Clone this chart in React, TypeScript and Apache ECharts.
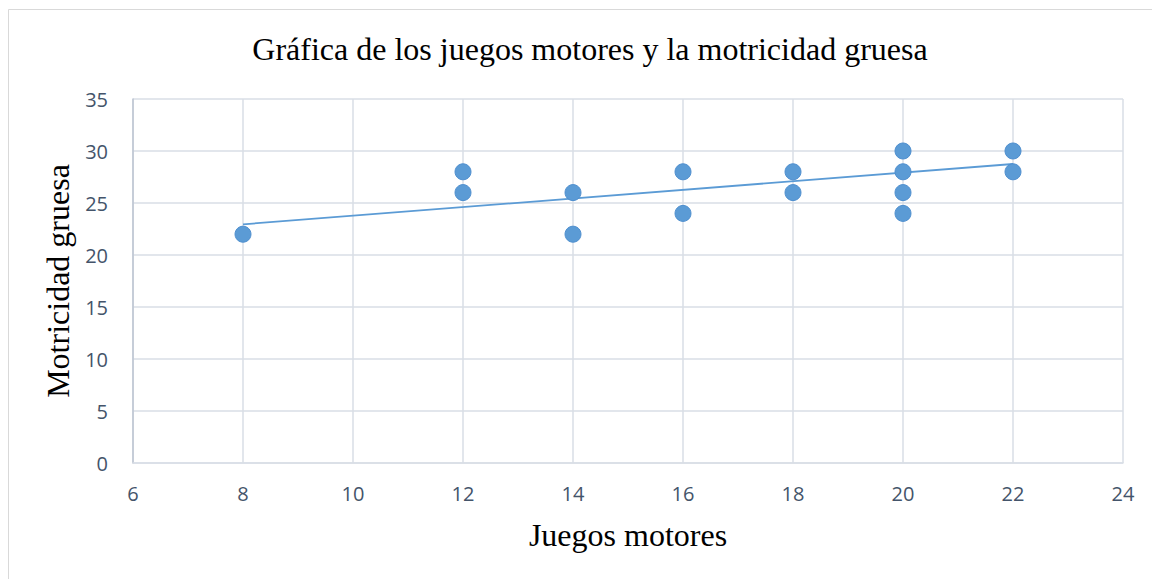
import React, { useEffect, useRef } from "react";
import * as echarts from "echarts";

const titleText = "Gráfica de los juegos motores y la motricidad gruesa";
const xAxisName = "Juegos motores";
const yAxisName = "Motricidad gruesa";

const juegosMotores = [8, 12, 12, 14, 14, 16, 16, 18, 18, 20, 20, 20, 20, 22, 22];
const motricidadGruesa = [22, 28, 26, 26, 22, 28, 24, 28, 26, 30, 28, 26, 24, 30, 28];

const trendX = [8, 22];
const trendY = [22.95, 28.75];

const xMin = 6, xMax = 24, xStep = 2;
const yMin = 0, yMax = 35, yStep = 5;

export default function App() {
  const ref = useRef<HTMLDivElement>(null);
  useEffect(() => {
    if (!ref.current) return;
    const chart = echarts.init(ref.current, null, { renderer: "svg" });
    const labelColor = "#44546A";
    const gridColor = "#D9DEE6";
    chart.setOption({
      animation: false,
      backgroundColor: "#ffffff",
      title: {
        text: titleText,
        left: 585,
        top: 28,
        textAlign: "center",
        textStyle: {
          fontFamily: "Liberation Serif",
          fontWeight: "normal",
          fontSize: 32,
          color: "#000000",
        },
      },
      graphic: [
        {
          type: "rect",
          shape: { x: 8.5, y: 9.5, width: 1160, height: 600 },
          style: { fill: "none", stroke: "#D9D9D9", lineWidth: 1 },
          silent: true,
        },
      ],
      grid: { left: 133, right: 29, top: 99, bottom: 116 },
      xAxis: {
        type: "value",
        min: xMin,
        max: xMax,
        interval: xStep,
        name: xAxisName,
        nameLocation: "middle",
        nameGap: 56,
        nameTextStyle: { fontFamily: "Liberation Serif", fontSize: 32, color: "#000000" },
        axisLine: { show: true, lineStyle: { color: gridColor, width: 1.5 } },
        axisTick: { show: false },
        axisLabel: { color: labelColor, fontFamily: "Open Sans", fontSize: 20, margin: 20 },
        splitLine: { show: true, lineStyle: { color: gridColor, width: 1.5 } },
      },
      yAxis: {
        type: "value",
        min: yMin,
        max: yMax,
        interval: yStep,
        name: yAxisName,
        nameLocation: "middle",
        nameRotate: 90,
        nameGap: 55,
        nameTextStyle: { fontFamily: "Liberation Serif", fontSize: 32, color: "#000000" },
        axisLine: { show: true, lineStyle: { color: "#BCC4D2", width: 1.5 } },
        axisTick: { show: false },
        axisLabel: { color: labelColor, fontFamily: "Open Sans", fontSize: 20, margin: 25 },
        splitLine: { show: true, lineStyle: { color: gridColor, width: 1.5 } },
      },
      series: [
        {
          type: "line",
          data: trendX.map((x, i) => [x, trendY[i]]),
          showSymbol: false,
          symbol: "none",
          lineStyle: { color: "#5B9BD5", width: 1.8 },
          z: 3,
        },
        {
          type: "scatter",
          data: juegosMotores.map((x, i) => [x, motricidadGruesa[i]]),
          symbol: "circle",
          symbolSize: 16,
          itemStyle: { color: "#5B9BD5", borderColor: "#4F8FCF", borderWidth: 1, opacity: 1 },
          z: 4,
        },
      ],
    });
    return () => chart.dispose();
  }, []);
  return (
    <div
      ref={ref}
      style={{ position: "fixed", left: 0, top: 0, width: 1152, height: 579 }}
    />
  );
}
